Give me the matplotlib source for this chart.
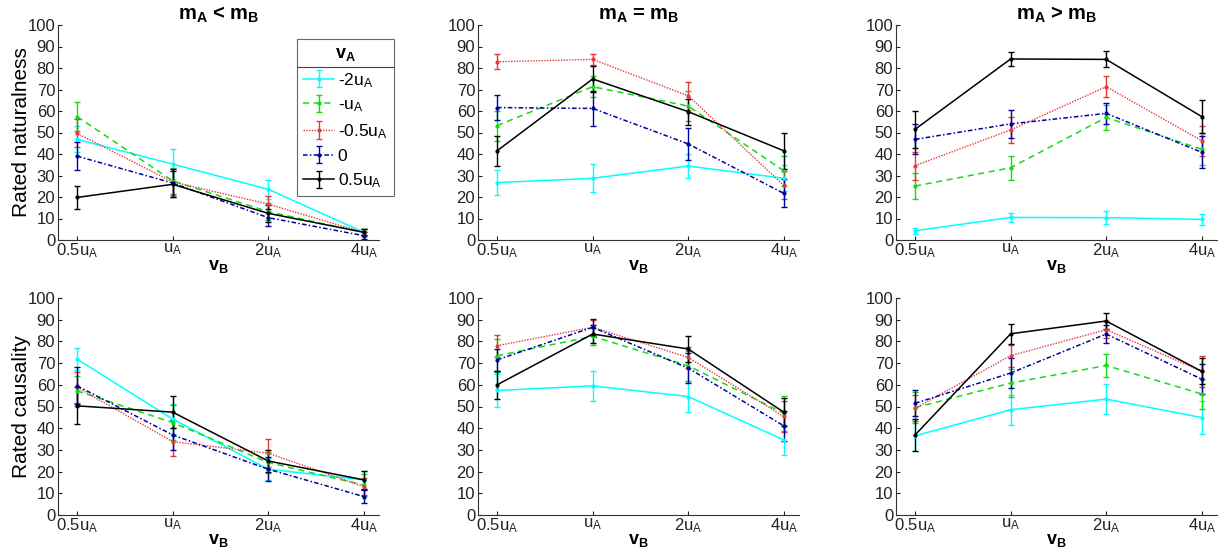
import matplotlib
matplotlib.use("Agg")
import matplotlib.pyplot as plt
from matplotlib.lines import Line2D
import numpy as np

plt.rcParams['font.family'] = ['Liberation Sans', 'DejaVu Sans']
plt.rcParams['mathtext.fontset'] = 'custom'
plt.rcParams['mathtext.rm'] = 'Liberation Sans'
plt.rcParams['mathtext.it'] = 'Liberation Sans'
plt.rcParams['mathtext.bf'] = 'Liberation Sans:bold'

# ---------------- data ----------------
x_labels = [r'0.5u$\mathregular{_A}$', r'u$\mathregular{_A}$', r'2u$\mathregular{_A}$', r'4u$\mathregular{_A}$']
series_names = [r'-2u$\mathregular{_A}$', r'-u$\mathregular{_A}$', r'-0.5u$\mathregular{_A}$', '0', r'0.5u$\mathregular{_A}$']
titles = [r'm$\mathbf{_A}$ < m$\mathbf{_B}$', r'm$\mathbf{_A}$ = m$\mathbf{_B}$', r'm$\mathbf{_A}$ > m$\mathbf{_B}$']
row_labels = ['Rated naturalness', 'Rated causality']

# naturalness, mA < mB
nat_lt = [[46.8, 35.3, 23.6, 3.6],
          [57.4, 27.5, 13.2, 3.5],
          [49.6, 27.0, 16.7, 3.5],
          [39.0, 26.5, 10.4, 2.0],
          [19.8, 25.9, 12.4, 3.6]]
nat_lt_err = [[6.0, 7.0, 4.3, 1.5],
              [6.7, 6.0, 4.0, 1.5],
              [6.5, 6.0, 3.8, 1.5],
              [6.5, 6.5, 4.0, 1.5],
              [5.5, 6.0, 4.0, 1.5]]
# naturalness, mA = mB
nat_eq = [[26.7, 28.7, 34.4, 28.7],
          [53.2, 71.3, 62.3, 32.2],
          [82.9, 84.0, 67.1, 25.4],
          [61.6, 61.2, 44.7, 21.7],
          [41.5, 74.9, 59.7, 41.5]]
nat_eq_err = [[6.0, 6.5, 5.5, 6.0],
              [7.0, 5.0, 7.0, 7.0],
              [3.5, 2.5, 6.5, 6.5],
              [6.0, 8.0, 7.5, 6.5],
              [7.0, 6.0, 6.0, 8.4]]
# naturalness, mA > mB
nat_gt = [[4.3, 10.5, 10.4, 9.6],
          [25.1, 33.6, 57.0, 42.2],
          [34.6, 51.2, 71.3, 46.2],
          [46.8, 54.0, 58.9, 40.8],
          [51.5, 84.2, 84.0, 57.4]]
nat_gt_err = [[1.5, 2.0, 3.0, 2.5],
              [6.0, 5.7, 6.0, 7.5],
              [6.5, 6.0, 5.0, 7.0],
              [7.0, 6.5, 5.0, 7.5],
              [8.5, 3.3, 3.7, 7.5]]
# causality, mA < mB
cau_lt = [[71.8, 44.2, 21.1, 16.2],
          [57.2, 42.6, 24.2, 13.8],
          [58.8, 33.8, 28.5, 13.1],
          [59.5, 36.9, 21.1, 8.5],
          [50.3, 47.4, 24.9, 16.2]]
cau_lt_err = [[5.0, 7.0, 5.0, 4.0],
              [7.0, 8.0, 5.0, 5.0],
              [7.0, 6.5, 6.5, 4.0],
              [8.5, 7.0, 5.5, 3.0],
              [8.5, 7.5, 5.0, 4.0]]
# causality, mA = mB
cau_eq = [[57.4, 59.5, 54.6, 34.6],
          [73.4, 82.3, 68.8, 46.9],
          [78.0, 86.5, 72.6, 45.4],
          [71.5, 86.5, 67.7, 41.1],
          [60.0, 83.4, 76.5, 47.4]]
cau_eq_err = [[7.5, 7.0, 7.0, 7.0],
              [7.5, 4.0, 7.0, 8.0],
              [5.0, 3.5, 5.0, 7.0],
              [5.0, 4.0, 7.0, 7.0],
              [6.5, 4.0, 6.0, 6.5]]
# causality, mA > mB
cau_gt = [[36.5, 48.5, 53.4, 44.9],
          [49.5, 60.8, 68.9, 55.8],
          [49.2, 73.4, 85.4, 66.2],
          [51.5, 65.4, 83.4, 62.6],
          [36.9, 83.5, 89.4, 66.2]]
cau_gt_err = [[7.0, 7.0, 7.0, 7.5],
              [7.0, 6.5, 5.5, 7.0],
              [6.0, 5.0, 4.0, 7.0],
              [6.0, 7.0, 4.0, 7.0],
              [7.5, 4.5, 3.5, 6.0]]

colors = ['#00ffff', '#11dd11', '#e8383a', '#0000a0', '#000000']
styles = ['-', (0, (4, 3)), (0, (1, 1)), (0, (3, 1.5, 1, 1.5)), '-']
widths = [1.1, 1.1, 1.0, 1.1, 1.1]

panels = [[(nat_lt, nat_lt_err), (nat_eq, nat_eq_err), (nat_gt, nat_gt_err)],
          [(cau_lt, cau_lt_err), (cau_eq, cau_eq_err), (cau_gt, cau_gt_err)]]

fig = plt.figure(figsize=(12.18, 5.49), dpi=100)
W, H = 1218.0, 549.0
col_left = [58, 478, 896]
col_width = 321
row_top = [25, 298]
row_bottom = [240, 515]

x = np.arange(1, 5)
for r in range(2):
    for c in range(3):
        l = col_left[c] / W
        b = (H - row_bottom[r]) / H
        w = col_width / W
        hpx = row_bottom[r] - row_top[r]
        h = hpx / H
        ax = fig.add_axes([l, b, w, h])
        vals, errs = panels[r][c]
        handles = []
        for i in range(5):
            cont = ax.errorbar(x, vals[i], yerr=errs[i], color=colors[i], ls=styles[i],
                               lw=widths[i], marker='.', ms=4, capsize=2.2, elinewidth=1.0,
                               capthick=1.0, label=series_names[i])
            handles.append(cont)
        ax.set_xlim(0.8, 4.16)
        ax.set_ylim(0, 100)
        ax.set_yticks(np.arange(0, 101, 10))
        ax.set_xticks(x)
        ax.set_xticklabels(x_labels)
        ax.spines['top'].set_visible(False)
        ax.spines['right'].set_visible(False)
        for s in ['left', 'bottom']:
            ax.spines[s].set_linewidth(0.8)
            ax.spines[s].set_color('#333333')
        ax.tick_params(direction='in', length=3, labelsize=12, pad=2, colors='#222222')
        ax.tick_params(axis='x', pad=1)
        ax.set_xlabel(r'$\mathbf{v_B}$', fontsize=13)
        ax.xaxis.set_label_coords(0.5, -(258 - row_bottom[0]) / 215.0 if r == 0 else -(532 - row_bottom[1]) / 217.0)
        if r == 0:
            ax.set_title(titles[c], fontsize=14.5, fontweight='bold', pad=4)
        if c == 0:
            ax.set_ylabel(row_labels[r], fontsize=15)
            ax.yaxis.set_label_coords(-(58 - 31) / 321.0, 0.5)
        if r == 0 and c == 0:
            leg = ax.legend(handles=handles, labels=series_names,
                            title=r'$\mathbf{v_A}$', title_fontsize=13, fontsize=12.5,
                            loc='upper left', bbox_to_anchor=((297 - 58) / 321.0, 1 - (39 - 25) / 215.0),
                            frameon=True, fancybox=False, edgecolor='#444444',
                            handlelength=1.8, handletextpad=0.2, labelspacing=0.45,
                            borderpad=0.35, borderaxespad=0)
            leg.get_frame().set_linewidth(0.8)

fig.canvas.draw()
bb = leg.get_window_extent()
tb = leg.get_title().get_window_extent()
ysep = tb.y0 - 4
fig.add_artist(Line2D([bb.x0 / W, bb.x1 / W], [ysep / H, ysep / H],
                      transform=fig.transFigure, color='#444444', lw=0.8))

fig.savefig('out.png', dpi=100)
